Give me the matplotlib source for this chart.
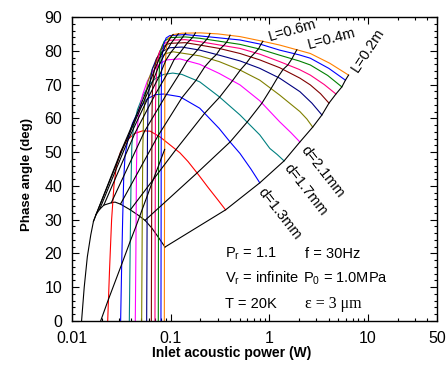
import matplotlib
matplotlib.use("Agg")
import matplotlib.pyplot as plt
from matplotlib.ticker import FixedLocator, FixedFormatter, NullFormatter

plt.rcParams['font.family'] = ['Liberation Sans', 'DejaVu Sans']
plt.rcParams['mathtext.fontset'] = 'custom'
plt.rcParams['mathtext.rm'] = 'Liberation Sans'
plt.rcParams['mathtext.it'] = 'Liberation Sans:italic'

# ---------------- constant-d curves (power W, phase deg) ----------------
hump_x = [0.0125, 0.0133, 0.0143, 0.0155, 0.0165, 0.0175, 0.019, 0.021, 0.025, 0.0273, 0.031, 0.039, 0.047, 0.055, 0.0645, 0.075, 0.0876]
hump_y = [0, 10, 19, 25.5, 29.5, 31.5, 33, 34.3, 35.0, 35.2, 34.6, 32.9, 31.3, 29.8, 27.5, 24.8, 21.9]

red_x = [0.0230, 0.0240, 0.0252, 0.0266, 0.0282, 0.031, 0.036, 0.043, 0.052, 0.062, 0.078, 0.095, 0.124, 0.15, 0.189, 0.24, 0.30, 0.36]
red_y = [0, 15, 30, 40, 46, 50, 53.5, 55.5, 56.3, 56.2, 54.5, 52.5, 49.8, 47.2, 43.5, 39.5, 35.9, 32.9]

blue_x = [0.0311, 0.0318, 0.0326, 0.0334, 0.0345, 0.037, 0.041, 0.048, 0.058, 0.07, 0.085, 0.124, 0.197, 0.31, 0.40, 0.504, 0.65, 0.80]
blue_y = [0, 15, 30, 42, 49, 54, 58.5, 62.8, 65.8, 67, 67.2, 66.4, 63, 57, 53, 49.6, 45, 40.9]

teal_x = [0.0381, 0.0388, 0.0396, 0.0404, 0.042, 0.046, 0.052, 0.06, 0.07, 0.085, 0.105, 0.13, 0.197, 0.31, 0.504, 0.8, 1.01, 1.2, 1.41]
teal_y = [0, 20, 40, 52, 57.5, 62.5, 66.5, 69.8, 71.8, 73, 73.4, 73, 70.8, 66.4, 61, 55.1, 51.1, 49.3, 47.4]

magenta_x = [0.0438, 0.0444, 0.0450, 0.0458, 0.048, 0.052, 0.058, 0.066, 0.078, 0.091, 0.124, 0.197, 0.31, 0.504, 0.8, 1.27, 1.65, 2.04]
magenta_y = [0, 20, 45, 57, 62.5, 67, 71, 74, 76.2, 77.3, 77.6, 76, 73.3, 69.9, 65.2, 59, 55.8, 53]

olive_x = [0.0508, 0.0514, 0.0521, 0.053, 0.055, 0.059, 0.066, 0.076, 0.09, 0.106, 0.197, 0.31, 0.504, 0.8, 1.27, 2.04, 2.4, 2.75]
olive_y = [0, 25, 50, 60, 66, 71, 75, 77.8, 79.2, 79.7, 78.5, 76.8, 74.3, 71.3, 66.9, 62, 59.8, 57.4]

navy_x = [0.0571, 0.0576, 0.0582, 0.059, 0.061, 0.065, 0.072, 0.082, 0.098, 0.13, 0.197, 0.31, 0.504, 0.8, 1.27, 2.04, 2.7, 3.41]
navy_y = [0, 25, 55, 65, 70, 74.5, 77.8, 79.8, 80.9, 81.1, 80.2, 78.7, 77, 74.8, 71.9, 67.9, 64.5, 61]

brown_x = [0.0637, 0.0641, 0.0646, 0.0653, 0.067, 0.071, 0.078, 0.088, 0.098, 0.14, 0.197, 0.31, 0.504, 0.8, 1.27, 2.04, 2.6, 3.3, 4.02]
brown_y = [0, 30, 60, 68, 73, 77, 80, 81.6, 82.2, 82.4, 81.7, 80.7, 79.2, 77.3, 75, 71.9, 69.9, 67.3, 64.5]

pink_x = [0.0693, 0.0697, 0.0701, 0.0708, 0.0725, 0.076, 0.083, 0.098, 0.14, 0.197, 0.504, 0.8, 1.27, 2.0, 2.6, 3.6, 4.73]
pink_y = [0, 30, 62, 70, 75, 79, 81.8, 83.1, 83.3, 82.7, 80.7, 79, 76.8, 74.5, 72.8, 70, 67.2]

green_x = [0.0749, 0.0752, 0.0756, 0.0762, 0.0775, 0.080, 0.086, 0.098, 0.14, 0.197, 0.504, 0.8, 1.27, 2.0, 2.6, 3.9, 5.43]
green_y = [0, 30, 65, 72, 77, 80.5, 82.8, 83.9, 84.1, 83.7, 81.9, 80.5, 78.7, 77, 75.8, 72.7, 69.3]

blue2_x = [0.0797, 0.0800, 0.0803, 0.0808, 0.082, 0.085, 0.09, 0.098, 0.14, 0.197, 0.504, 0.8, 1.27, 2.0, 2.6, 4.0, 5.9]
blue2_y = [0, 30, 67, 74, 78.5, 82, 83.8, 84.5, 84.8, 84.4, 83.2, 82, 80.2, 78.8, 77.8, 74.8, 71.3]

orange_x = [0.0862, 0.0866, 0.0872, 0.0880, 0.0905, 0.096, 0.106, 0.13, 0.2, 0.3, 0.504, 0.86, 1.27, 1.9, 2.6, 4.1, 6.35]
orange_y = [0, 30, 68, 76, 81, 83.8, 84.8, 85.2, 85.3, 85, 84.2, 82.8, 81.7, 80.3, 79.2, 76.3, 72.8]

row_colors = ['black', '#ff0000', '#0000ff', '#008080', '#ff00ff', '#808000',
              '#000080', '#800000', '#ff0080', '#008000', '#0000ff', '#ff8000']

# ---------------- constant-L lines (one point per d curve) ----------------
L02_x = [0.0876, 0.36, 0.80, 1.41, 2.04, 2.75, 3.41, 4.02, 4.73, 5.43, 5.9, 6.35]
L02_y = [21.9, 32.9, 40.9, 47.4, 53.0, 57.4, 61.0, 64.5, 67.2, 69.3, 71.3, 72.8]
L04_x = [0.055, 0.183, 0.400, 0.600, 0.841, 1.04, 1.22, 1.38, 1.54, 1.69, 1.80, 1.90]
L04_y = [29.8, 43.7, 53.0, 59.0, 64.5, 68.8, 72.2, 74.5, 75.8, 77.6, 79.1, 80.3]
L06_x = [0.039, 0.112, 0.221, 0.314, 0.422, 0.508, 0.584, 0.651, 0.714, 0.777, 0.821, 0.86]
L06_y = [32.9, 50.6, 61.5, 66.3, 71.1, 74.3, 76.3, 78.2, 79.4, 80.6, 81.9, 82.8]
L08_x = [0.031, 0.074, 0.130, 0.181, 0.222, 0.259, 0.291, 0.318, 0.343, 0.368, 0.385, 0.40]
L08_y = [34.6, 54.7, 66.1, 71.3, 75.3, 77.5, 78.9, 80.6, 81.5, 82.5, 83.5, 84.6]
L10_x = [0.025, 0.0547, 0.0908, 0.1225, 0.147, 0.169, 0.1875, 0.203, 0.218, 0.232, 0.2415, 0.25]
L10_y = [35.0, 56.3, 67.1, 73.1, 77.0, 78.8, 80.3, 81.6, 82.5, 83.4, 84.1, 85.1]
L12_x = [0.021, 0.0434, 0.0695, 0.0918, 0.1088, 0.1238, 0.1363, 0.1469, 0.1565, 0.1659, 0.1724, 0.178]
L12_y = [34.3, 55.6, 67.0, 73.1, 77.5, 79.4, 81.0, 82.3, 83.1, 83.9, 84.6, 85.3]
L14_x = [0.019, 0.0376, 0.0586, 0.0761, 0.0894, 0.1009, 0.1104, 0.1185, 0.1259, 0.1329, 0.1377, 0.142]
L14_y = [33.0, 54.0, 65.9, 72.3, 77.2, 79.6, 81.0, 82.3, 83.2, 84.1, 84.8, 85.2]
L16_x = [0.0175, 0.0337, 0.0514, 0.0661, 0.0771, 0.0865, 0.0943, 0.1009, 0.1069, 0.1126, 0.1166, 0.12]
L16_y = [31.5, 51.9, 63.9, 71.1, 76.0, 78.9, 80.7, 82.2, 83.2, 84.0, 84.7, 85.0]
L18_x = [0.0165, 0.0311, 0.0468, 0.0596, 0.0691, 0.0773, 0.0840, 0.0897, 0.0948, 0.0997, 0.1031, 0.106]
L18_y = [29.5, 50.0, 62.1, 69.6, 74.6, 77.9, 80.0, 81.7, 82.8, 83.9, 84.5, 84.8]
Lbig_x = [0.0195, 0.0234, 0.0319, 0.0389, 0.0446, 0.0516, 0.0578, 0.0643, 0.0699, 0.0754, 0.0802, 0.0869]
Lbig_y = [0, 6.4, 16.8, 23.6, 28.1, 33.1, 37.0, 40.7, 43.5, 46.0, 48.1, 50.8]

x_major = [0.01, 0.1, 1, 10, 50]
x_major_labels = ['0.01', '0.1', '1', '10', '50']

# ---------------- figure ----------------
fig = plt.figure(figsize=(4.48, 3.74), dpi=100)
ax = fig.add_axes([72/448, 53/374, 365/448, 304/374])

rows = [(hump_x, hump_y), (red_x, red_y), (blue_x, blue_y), (teal_x, teal_y),
        (magenta_x, magenta_y), (olive_x, olive_y), (navy_x, navy_y),
        (brown_x, brown_y), (pink_x, pink_y), (green_x, green_y),
        (blue2_x, blue2_y), (orange_x, orange_y)]
for (xs, ys), c in zip(rows, row_colors):
    ax.plot(xs, ys, color=c, lw=0.8, zorder=2)

for xs, ys in [(L02_x, L02_y), (L04_x, L04_y), (L06_x, L06_y), (L08_x, L08_y),
               (L10_x, L10_y), (L12_x, L12_y), (L14_x, L14_y), (L16_x, L16_y),
               (L18_x, L18_y), (Lbig_x, Lbig_y)]:
    ax.plot(xs, ys, color='black', lw=0.8, zorder=3)

ax.set_xscale('log')
ax.set_xlim(0.01, 50)
ax.set_ylim(0, 90)

ax.xaxis.set_major_locator(FixedLocator(x_major))
ax.xaxis.set_major_formatter(FixedFormatter(x_major_labels))
minors = [m * d for d in (0.01, 0.1, 1, 10) for m in range(2, 10) if m * d < 49]
ax.xaxis.set_minor_locator(FixedLocator(minors))
ax.xaxis.set_minor_formatter(NullFormatter())
ax.set_yticks(range(0, 91, 10))
ax.set_yticks(range(0, 91, 2), minor=True)

ax.tick_params(which='both', direction='in', top=True, right=True, width=0.8)
ax.tick_params(which='major', length=5, labelsize=11.5)
ax.tick_params(which='minor', length=2.5)
ax.tick_params(axis='x', which='major', pad=7)
ax.tick_params(axis='y', which='major', pad=7)
for s in ax.spines.values():
    s.set_linewidth(1.0)

fig.text(27/448, 1 - 174/374, 'Phase angle (deg)', rotation=90, ha='center',
         va='center', fontweight='bold', fontsize=9.5)
fig.text(231.5/448, 1 - 353/374, 'Inlet acoustic power (W)', ha='center',
         va='center', fontweight='bold', fontsize=10)

# curve labels
ax.text(1.73, 86.1, 'L=0.6m', rotation=16, ha='center', va='center', fontsize=10.5)
ax.text(4.3, 83.6, 'L=0.4m', rotation=15, ha='center', va='center', fontsize=10.5)
ax.text(9.9, 80.2, 'L=0.2m', rotation=57, ha='center', va='center', fontsize=10.5)
ax.text(3.49, 44.1, 'd=2.1mm', rotation=-52, ha='center', va='center', fontsize=10.5)
ax.text(2.35, 38.8, 'd=1.7mm', rotation=-52, ha='center', va='center', fontsize=10.5)
ax.text(1.26, 31.7, 'd=1.3mm', rotation=-52, ha='center', va='center', fontsize=10.5)

def axpos(px, py):
    return (px - 72) / 365, (321 - py) / 304

params = [
    (225, 258, 'P$_{\\mathregular{r}}$ = 1.1', 'sans'),
    (305, 258, 'f = 30Hz', 'sans'),
    (225, 283, 'V$_{\\mathregular{r}}$ = infinite', 'sans'),
    (303, 283, 'P$_{\\mathregular{0}}$ = 1.0MPa', 'sans'),
    (225, 308, 'T = 20K', 'sans'),
    (305, 308, 'ε = 3 μm', 'serif'),
]
for px, py, s, fam in params:
    xa, ya = axpos(px, py)
    kw = dict(transform=ax.transAxes, ha='left', va='baseline', fontsize=10.5)
    if fam == 'serif':
        kw['family'] = ['Liberation Serif', 'DejaVu Serif']
        kw['fontsize'] = 11.5
    ax.text(xa, ya, s, **kw)

fig.savefig('out.png', dpi=100, facecolor='white')
